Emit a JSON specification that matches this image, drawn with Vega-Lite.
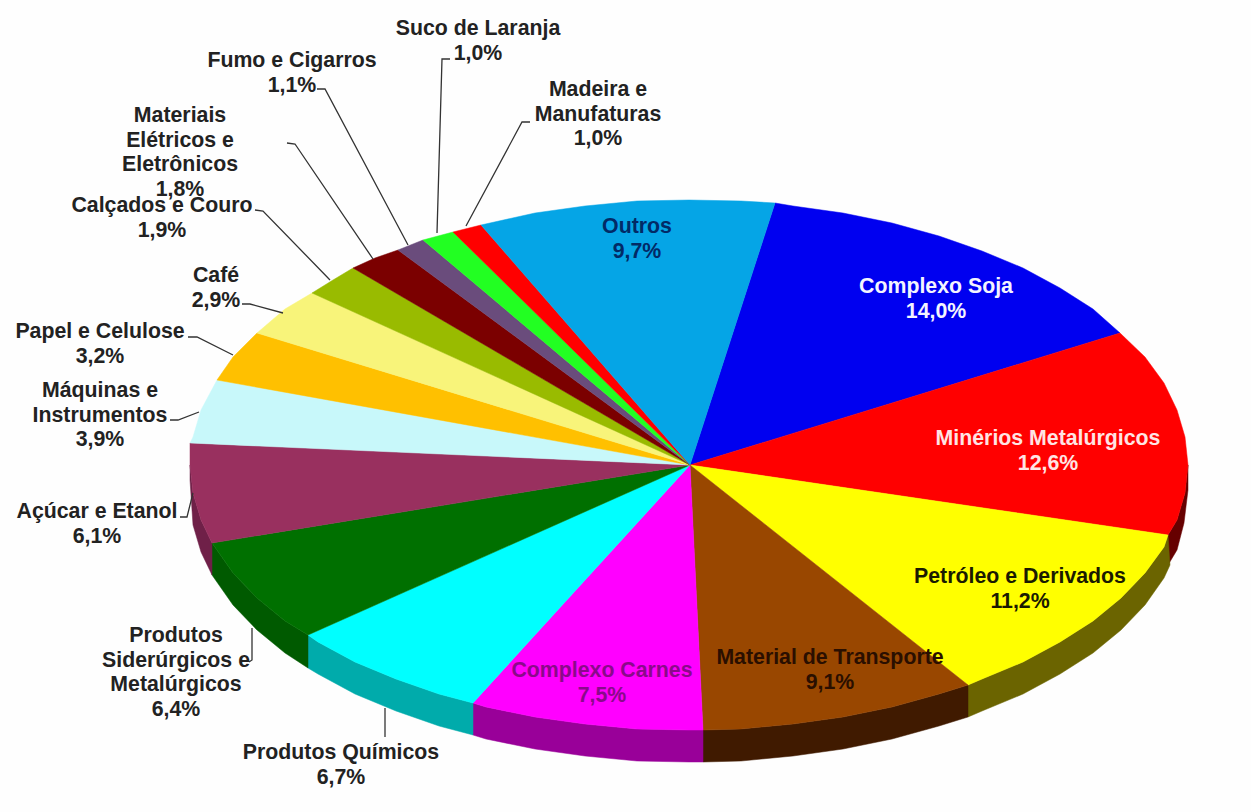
{
  "$schema": "https://vega.github.io/schema/vega-lite/v6.json",
  "width": 1251,
  "height": 812,
  "padding": 0,
  "autosize": {"type": "none"},
  "background": "#fefefe",
  "config": {"view": {"stroke": null}},
  "projection": {"type": "identity", "scale": 1, "translate": [0, 0]},
  "resolve": {"scale": {"fill": "independent", "stroke": "independent", "color": "independent"}},
  "layer": [
    {
      "data": {"values": [
        {"type": "Feature", "properties": {"name": "Minérios Metalúrgicos"}, "geometry": {"type": "Polygon", "coordinates": [[[1188,465],[1185,493],[1177,520],[1168,535],[1168,565],[1177,550],[1184,523],[1188,490],[1188,465]]]}},
        {"type": "Feature", "properties": {"name": "Petróleo e Derivados"}, "geometry": {"type": "Polygon", "coordinates": [[[1168,535],[1164,547],[1145,573],[1121,598],[1093,621],[1060,642],[1023,662],[982,679],[968,685],[968,717],[982,711],[1023,694],[1060,674],[1093,653],[1121,630],[1145,605],[1164,578],[1170,565],[1168,535]]]}},
        {"type": "Feature", "properties": {"name": "Material de Transporte"}, "geometry": {"type": "Polygon", "coordinates": [[[968,685],[939,694],[892,707],[843,717],[793,724],[741,729],[703,730],[703,762],[741,761],[793,756],[843,749],[892,739],[939,726],[968,717],[968,685]]]}},
        {"type": "Feature", "properties": {"name": "Complexo Carnes"}, "geometry": {"type": "Polygon", "coordinates": [[[703,730],[689,730],[637,729],[585,724],[535,717],[486,707],[473,703],[473,735],[486,739],[535,749],[585,756],[637,761],[689,762],[703,762],[703,730]]]}},
        {"type": "Feature", "properties": {"name": "Produtos Químicos"}, "geometry": {"type": "Polygon", "coordinates": [[[473,703],[439,694],[396,679],[355,662],[318,642],[308,635],[308,668],[318,674],[355,694],[396,711],[439,726],[473,735],[473,703]]]}},
        {"type": "Feature", "properties": {"name": "Produtos Siderúrgicos e Metalúrgicos"}, "geometry": {"type": "Polygon", "coordinates": [[[308,635],[285,621],[257,598],[233,573],[212,543],[212,575],[233,605],[257,630],[285,653],[308,668],[308,635]]]}},
        {"type": "Feature", "properties": {"name": "Açúcar e Etanol"}, "geometry": {"type": "Polygon", "coordinates": [[[212,543],[201,520],[193,493],[190,465],[190,480],[193,525],[201,552],[212,575],[212,543]]]}}
      ]},
      "mark": {"type": "geoshape", "strokeWidth": 0.5},
      "encoding": {
        "fill": {"field": "properties.name", "type": "nominal", "legend": null, "scale": {
          "domain": ["Minérios Metalúrgicos", "Petróleo e Derivados", "Material de Transporte", "Complexo Carnes", "Produtos Químicos", "Produtos Siderúrgicos e Metalúrgicos", "Açúcar e Etanol"],
          "range": ["#660000", "#6b6400", "#401a00", "#990099", "#00abab", "#005a00", "#6f2048"]}},
        "stroke": {"field": "properties.name", "type": "nominal", "legend": null, "scale": {
          "domain": ["Minérios Metalúrgicos", "Petróleo e Derivados", "Material de Transporte", "Complexo Carnes", "Produtos Químicos", "Produtos Siderúrgicos e Metalúrgicos", "Açúcar e Etanol"],
          "range": ["#660000", "#6b6400", "#401a00", "#990099", "#00abab", "#005a00", "#6f2048"]}}
      }
    },
    {
      "data": {"values": [
        {"type": "Feature", "properties": {"name": "Complexo Soja", "value": 14.0}, "geometry": {"type": "Polygon", "coordinates": [[[690,465],[775,203],[793,206],[843,213],[892,223],[939,236],[982,251],[1023,268],[1060,288],[1093,309],[1120,333],[690,465]]]}},
        {"type": "Feature", "properties": {"name": "Minérios Metalúrgicos", "value": 12.6}, "geometry": {"type": "Polygon", "coordinates": [[[690,465],[1120,333],[1145,357],[1164,383],[1177,410],[1185,437],[1188,465],[1185,493],[1177,520],[1168,535],[690,465]]]}},
        {"type": "Feature", "properties": {"name": "Petróleo e Derivados", "value": 11.2}, "geometry": {"type": "Polygon", "coordinates": [[[690,465],[1168,535],[1164,547],[1145,573],[1121,598],[1093,621],[1060,642],[1023,662],[982,679],[968,685],[690,465]]]}},
        {"type": "Feature", "properties": {"name": "Material de Transporte", "value": 9.1}, "geometry": {"type": "Polygon", "coordinates": [[[690,465],[968,685],[939,694],[892,707],[843,717],[793,724],[741,729],[703,730],[690,465]]]}},
        {"type": "Feature", "properties": {"name": "Complexo Carnes", "value": 7.5}, "geometry": {"type": "Polygon", "coordinates": [[[690,465],[703,730],[689,730],[637,729],[585,724],[535,717],[486,707],[473,703],[690,465]]]}},
        {"type": "Feature", "properties": {"name": "Produtos Químicos", "value": 6.7}, "geometry": {"type": "Polygon", "coordinates": [[[690,465],[473,703],[439,694],[396,679],[355,662],[318,642],[308,635],[690,465]]]}},
        {"type": "Feature", "properties": {"name": "Produtos Siderúrgicos e Metalúrgicos", "value": 6.4}, "geometry": {"type": "Polygon", "coordinates": [[[690,465],[308,635],[285,621],[257,598],[233,573],[212,543],[690,465]]]}},
        {"type": "Feature", "properties": {"name": "Açúcar e Etanol", "value": 6.1}, "geometry": {"type": "Polygon", "coordinates": [[[690,465],[212,543],[201,520],[193,493],[190,465],[190,443],[690,465]]]}},
        {"type": "Feature", "properties": {"name": "Máquinas e Instrumentos", "value": 3.9}, "geometry": {"type": "Polygon", "coordinates": [[[690,465],[190,443],[193,437],[201,410],[217,380],[690,465]]]}},
        {"type": "Feature", "properties": {"name": "Papel e Celulose", "value": 3.2}, "geometry": {"type": "Polygon", "coordinates": [[[690,465],[217,380],[233,357],[257,333],[690,465]]]}},
        {"type": "Feature", "properties": {"name": "Café", "value": 2.9}, "geometry": {"type": "Polygon", "coordinates": [[[690,465],[257,333],[285,309],[312,293],[690,465]]]}},
        {"type": "Feature", "properties": {"name": "Calçados e Couro", "value": 1.9}, "geometry": {"type": "Polygon", "coordinates": [[[690,465],[312,293],[333,280],[353,268],[690,465]]]}},
        {"type": "Feature", "properties": {"name": "Materiais Elétricos e Eletrônicos", "value": 1.8}, "geometry": {"type": "Polygon", "coordinates": [[[690,465],[353,268],[375,258],[398,250],[690,465]]]}},
        {"type": "Feature", "properties": {"name": "Fumo e Cigarros", "value": 1.1}, "geometry": {"type": "Polygon", "coordinates": [[[690,465],[398,250],[423,240],[690,465]]]}},
        {"type": "Feature", "properties": {"name": "Suco de Laranja", "value": 1.0}, "geometry": {"type": "Polygon", "coordinates": [[[690,465],[423,240],[453,232],[690,465]]]}},
        {"type": "Feature", "properties": {"name": "Madeira e Manufaturas", "value": 1.0}, "geometry": {"type": "Polygon", "coordinates": [[[690,465],[453,232],[481,225],[690,465]]]}},
        {"type": "Feature", "properties": {"name": "Outros", "value": 9.7}, "geometry": {"type": "Polygon", "coordinates": [[[690,465],[481,225],[535,213],[585,206],[637,201],[689,200],[741,201],[775,203],[690,465]]]}}
      ]},
      "mark": {"type": "geoshape", "strokeWidth": 0.5},
      "encoding": {
        "fill": {"field": "properties.name", "type": "nominal", "legend": null, "scale": {
          "domain": ["Complexo Soja", "Minérios Metalúrgicos", "Petróleo e Derivados", "Material de Transporte", "Complexo Carnes", "Produtos Químicos", "Produtos Siderúrgicos e Metalúrgicos", "Açúcar e Etanol", "Máquinas e Instrumentos", "Papel e Celulose", "Café", "Calçados e Couro", "Materiais Elétricos e Eletrônicos", "Fumo e Cigarros", "Suco de Laranja", "Madeira e Manufaturas", "Outros"],
          "range": ["#0000f0", "#ff0000", "#ffff00", "#994700", "#ff00ff", "#00ffff", "#007000", "#99305f", "#c8f8fa", "#ffc000", "#f8f47a", "#99bb00", "#7b0000", "#6a4c7c", "#22ff22", "#ff0000", "#05a5e6"]}},
        "stroke": {"field": "properties.name", "type": "nominal", "legend": null, "scale": {
          "domain": ["Complexo Soja", "Minérios Metalúrgicos", "Petróleo e Derivados", "Material de Transporte", "Complexo Carnes", "Produtos Químicos", "Produtos Siderúrgicos e Metalúrgicos", "Açúcar e Etanol", "Máquinas e Instrumentos", "Papel e Celulose", "Café", "Calçados e Couro", "Materiais Elétricos e Eletrônicos", "Fumo e Cigarros", "Suco de Laranja", "Madeira e Manufaturas", "Outros"],
          "range": ["#0000f0", "#ff0000", "#ffff00", "#994700", "#ff00ff", "#00ffff", "#007000", "#99305f", "#c8f8fa", "#ffc000", "#f8f47a", "#99bb00", "#7b0000", "#6a4c7c", "#22ff22", "#ff0000", "#05a5e6"]}}
      }
    },
    {
      "data": {"values": [
        {"type": "Feature", "properties": {"name": "Madeira e Manufaturas"}, "geometry": {"type": "LineString", "coordinates": [[530,122],[522,122],[466,226]]}},
        {"type": "Feature", "properties": {"name": "Suco de Laranja"}, "geometry": {"type": "LineString", "coordinates": [[450,59],[442,59],[437,233]]}},
        {"type": "Feature", "properties": {"name": "Fumo e Cigarros"}, "geometry": {"type": "LineString", "coordinates": [[317,89],[325,89],[408,245]]}},
        {"type": "Feature", "properties": {"name": "Materiais Elétricos e Eletrônicos"}, "geometry": {"type": "LineString", "coordinates": [[287,143],[295,144],[373,259]]}},
        {"type": "Feature", "properties": {"name": "Calçados e Couro"}, "geometry": {"type": "LineString", "coordinates": [[255,210],[263,211],[330,280]]}},
        {"type": "Feature", "properties": {"name": "Café"}, "geometry": {"type": "LineString", "coordinates": [[242,304],[250,304],[283,313]]}},
        {"type": "Feature", "properties": {"name": "Papel e Celulose"}, "geometry": {"type": "LineString", "coordinates": [[188,337],[197,337],[233,355]]}},
        {"type": "Feature", "properties": {"name": "Máquinas e Instrumentos"}, "geometry": {"type": "LineString", "coordinates": [[170,420],[178,420],[199,412]]}},
        {"type": "Feature", "properties": {"name": "Açúcar e Etanol"}, "geometry": {"type": "LineString", "coordinates": [[180,517],[187,517],[193,493]]}},
        {"type": "Feature", "properties": {"name": "Produtos Siderúrgicos e Metalúrgicos"}, "geometry": {"type": "LineString", "coordinates": [[249,662],[252,660],[252,628]]}},
        {"type": "Feature", "properties": {"name": "Produtos Químicos"}, "geometry": {"type": "LineString", "coordinates": [[385,737],[385,708]]}}
      ]},
      "mark": {"type": "geoshape", "filled": false, "stroke": "#333333", "strokeWidth": 1.3, "fill": null},
      "encoding": {}
    },
    {
      "data": {"values": [
        {"label": "Outros\n9,7%", "name": "Outros", "mapX": 637, "mapY": 233},
        {"label": "Complexo Soja\n14,0%", "name": "Complexo Soja", "mapX": 936, "mapY": 293},
        {"label": "Minérios Metalúrgicos\n12,6%", "name": "Minérios Metalúrgicos", "mapX": 1048, "mapY": 445},
        {"label": "Petróleo e Derivados\n11,2%", "name": "Petróleo e Derivados", "mapX": 1020, "mapY": 583},
        {"label": "Material de Transporte\n9,1%", "name": "Material de Transporte", "mapX": 830, "mapY": 664},
        {"label": "Complexo Carnes\n7,5%", "name": "Complexo Carnes", "mapX": 602, "mapY": 677},
        {"label": "Produtos Químicos\n6,7%", "name": "Produtos Químicos", "mapX": 341, "mapY": 759},
        {"label": "Produtos\nSiderúrgicos e\nMetalúrgicos\n6,4%", "name": "Produtos Siderúrgicos e Metalúrgicos", "mapX": 176, "mapY": 642},
        {"label": "Açúcar e Etanol\n6,1%", "name": "Açúcar e Etanol", "mapX": 97, "mapY": 518},
        {"label": "Máquinas e\nInstrumentos\n3,9%", "name": "Máquinas e Instrumentos", "mapX": 100, "mapY": 397},
        {"label": "Papel e Celulose\n3,2%", "name": "Papel e Celulose", "mapX": 100, "mapY": 338},
        {"label": "Café\n2,9%", "name": "Café", "mapX": 216, "mapY": 282},
        {"label": "Calçados e Couro\n1,9%", "name": "Calçados e Couro", "mapX": 162, "mapY": 212},
        {"label": "Materiais\nElétricos e\nEletrônicos\n1,8%", "name": "Materiais Elétricos e Eletrônicos", "mapX": 180, "mapY": 122},
        {"label": "Fumo e Cigarros\n1,1%", "name": "Fumo e Cigarros", "mapX": 292, "mapY": 67},
        {"label": "Suco de Laranja\n1,0%", "name": "Suco de Laranja", "mapX": 478, "mapY": 35},
        {"label": "Madeira e\nManufaturas\n1,0%", "name": "Madeira e Manufaturas", "mapX": 598, "mapY": 96}
      ]},
      "mark": {"type": "text", "font": "Liberation Sans", "fontWeight": "bold", "fontSize": 21.3, "lineHeight": 24.5, "lineBreak": "\n", "align": "center", "baseline": "alphabetic"},
      "encoding": {
        "longitude": {"field": "mapX", "type": "quantitative"},
        "latitude": {"field": "mapY", "type": "quantitative"},
        "text": {"field": "label"},
        "color": {"field": "name", "type": "nominal", "legend": null, "scale": {
          "domain": ["Outros", "Complexo Soja", "Minérios Metalúrgicos", "Petróleo e Derivados", "Material de Transporte", "Complexo Carnes", "Produtos Químicos", "Produtos Siderúrgicos e Metalúrgicos", "Açúcar e Etanol", "Máquinas e Instrumentos", "Papel e Celulose", "Café", "Calçados e Couro", "Materiais Elétricos e Eletrônicos", "Fumo e Cigarros", "Suco de Laranja", "Madeira e Manufaturas"],
          "range": ["#022a66", "#f4f4ff", "#ffe4e4", "#1a1a00", "#2a0f00", "#8a0a8a", "#222222", "#222222", "#222222", "#222222", "#222222", "#222222", "#222222", "#222222", "#222222", "#222222", "#222222"]}}
      }
    }
  ]
}
